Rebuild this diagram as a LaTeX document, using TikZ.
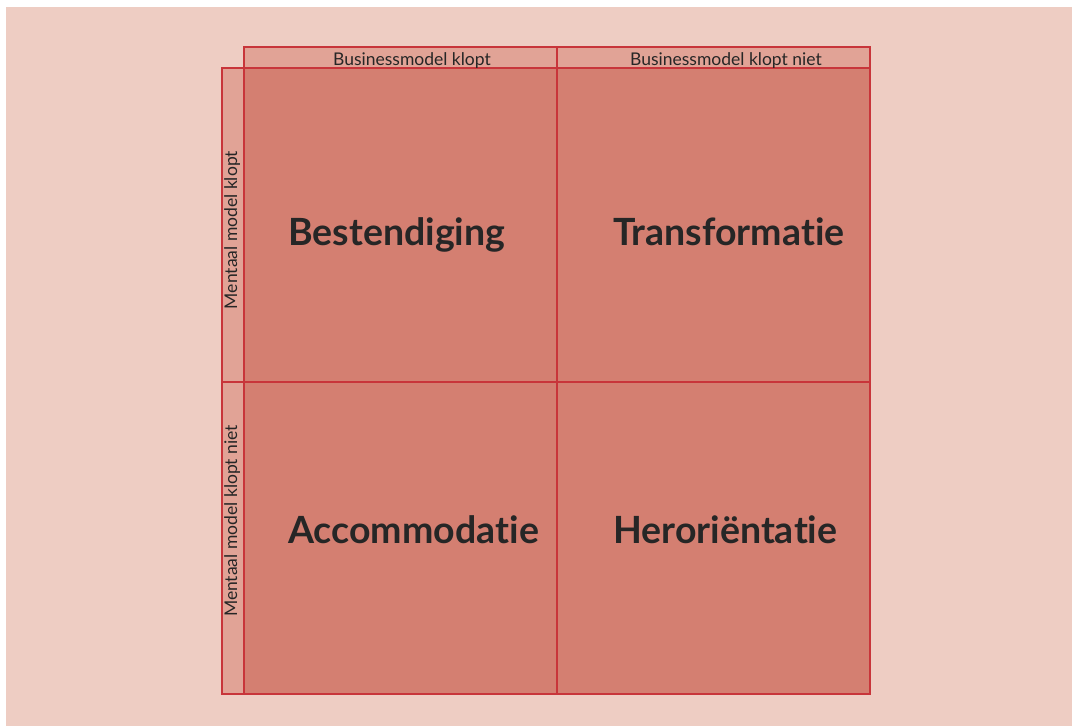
\documentclass[tikz,border=0pt]{standalone}
\usepackage{fontspec}
\setmainfont{Lato}[Ligatures={NoCommon,NoRequired,NoContextual}]
\definecolor{bgpink}{HTML}{EECDC3}
\definecolor{stripfill}{HTML}{E1A396}
\definecolor{cellfill}{HTML}{D47F71}
\definecolor{edgered}{HTML}{C8353A}
\definecolor{inktext}{HTML}{262626}
\tikzset{
  cellbox/.style={fill=cellfill,draw=edgered,line width=1.15pt},
  stripbox/.style={fill=stripfill,draw=edgered,line width=1.15pt},
  biglabel/.style={anchor=base west,inner sep=0pt,text=inktext,font=\fontsize{37.5}{44}\selectfont\bfseries},
  smalllabel/.style={anchor=base,inner sep=0pt,text=inktext,font=\fontsize{17.5}{20}\selectfont},
}
\begin{document}
\begin{tikzpicture}[x=1pt,y=-1pt]
\useasboundingbox (0,0) rectangle (1072,726);
\fill[white] (0,0) rectangle (1072,726);
\fill[bgpink] (6,7) rectangle (1072,726);
% strips
\draw[stripbox] (244,47) rectangle (557,68);
\draw[stripbox] (557,47) rectangle (870,68);
\draw[stripbox] (222,68) rectangle (244,382);
\draw[stripbox] (222,382) rectangle (244,694);
% cells
\draw[cellbox] (244,68) rectangle (557,382);
\draw[cellbox] (557,68) rectangle (870,382);
\draw[cellbox] (244,382) rectangle (557,694);
\draw[cellbox] (557,382) rectangle (870,694);
% header labels
\node[smalllabel] (h1) at (412,65) {Businessmodel klopt};
\node[smalllabel] (h2) at (726,65) {Businessmodel klopt niet};
\node[smalllabel,rotate=90] (v1) at (237,230) {Mentaal model klopt};
\node[smalllabel,rotate=90] (v2) at (237,521) {Mentaal model klopt niet};
% quadrant labels
\node[biglabel] (q1) at (288,245) {Bestendiging};
\node[biglabel] (q2) at (613,245) {Transforma\kern0pt tie};
\node[biglabel] (q3) at (288,543) {Accommoda\kern0pt tie};
\node[biglabel] (q4) at (613,543) {Heroriënta\kern0pt tie};
\end{tikzpicture}
\end{document}
